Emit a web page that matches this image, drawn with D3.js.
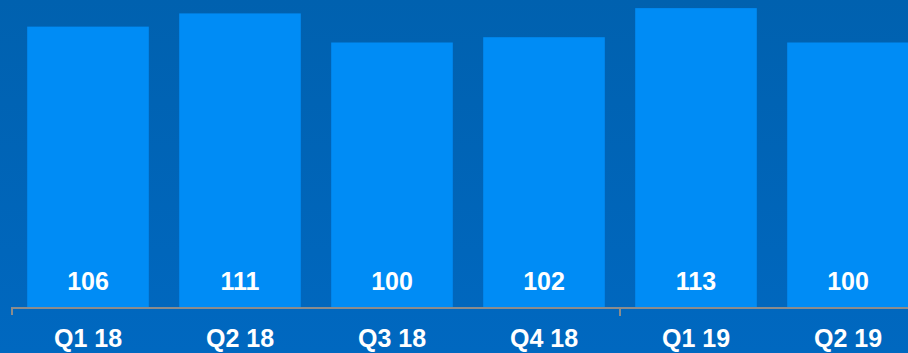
<!DOCTYPE html>
<html>
<head>
<meta charset="utf-8">
<script src="https://cdn.jsdelivr.net/npm/d3@7"></script>
<style>
html,body{margin:0;padding:0;overflow:hidden;}
body{width:908px;height:353px;}
</style>
</head>
<body>
<svg id="chart" width="908" height="353"></svg>
<script>
const categories = ["Q1 18","Q2 18","Q3 18","Q4 18","Q1 19","Q2 19"];
const values = [106,111,100,102,113,100];
const groupTicks = [0, 4]; // indexes where year groups begin

const W = 908, H = 353;
const svg = d3.select("#chart");

const defs = svg.append("defs");
const grad = defs.append("linearGradient").attr("id","bg").attr("x1",0).attr("y1",0).attr("x2",0).attr("y2",1);
grad.append("stop").attr("offset","0%").attr("stop-color","#0061af");
grad.append("stop").attr("offset","100%").attr("stop-color","#0068c0");
svg.append("rect").attr("width",W).attr("height",H).attr("fill","url(#bg)");

const x = d3.scaleBand().domain(categories).range([12, 924]).paddingInner(0.2).paddingOuter(0.1);
const y = d3.scaleLinear().domain([0, 116.07]).range([307, 0]);

svg.selectAll("rect.bar").data(values).join("rect")
  .attr("class","bar")
  .attr("x",(d,i)=>x(categories[i]))
  .attr("width",x.bandwidth())
  .attr("y",d=>y(d))
  .attr("height",d=>y(0)-y(d))
  .attr("fill","#008cf5");

svg.selectAll("text.val").data(values).join("text")
  .attr("class","val")
  .attr("x",(d,i)=>x(categories[i])+x.bandwidth()/2)
  .attr("y",290)
  .attr("text-anchor","middle")
  .attr("fill","#ffffff")
  .attr("font-family","'Liberation Sans', Arial, sans-serif")
  .attr("font-weight","bold")
  .attr("font-size","25px")
  .text(d=>d);

// axis line
svg.append("line").attr("x1",x.range()[0]).attr("x2",W).attr("y1",308).attr("y2",308)
  .attr("stroke","#8c8c8c").attr("stroke-width",2);

// group boundary ticks
const tickX = i => i === 0
  ? x(categories[i]) - x.step()*x.paddingOuter()
  : x(categories[i]) - x.step()*x.paddingInner()/2;
svg.selectAll("line.gt").data(groupTicks).join("line")
  .attr("class","gt")
  .attr("x1",tickX).attr("x2",tickX)
  .attr("y1",307).attr("y2",i=>i===0?315:316)
  .attr("stroke","#8c8c8c").attr("stroke-width",2);

svg.selectAll("text.cat").data(categories).join("text")
  .attr("class","cat")
  .attr("x",d=>x(d)+x.bandwidth()/2)
  .attr("y",347)
  .attr("text-anchor","middle")
  .attr("fill","#ffffff")
  .attr("font-family","'Liberation Sans', Arial, sans-serif")
  .attr("font-weight","bold")
  .attr("font-size","25px")
  .text(d=>d);
</script>
</body>
</html>
